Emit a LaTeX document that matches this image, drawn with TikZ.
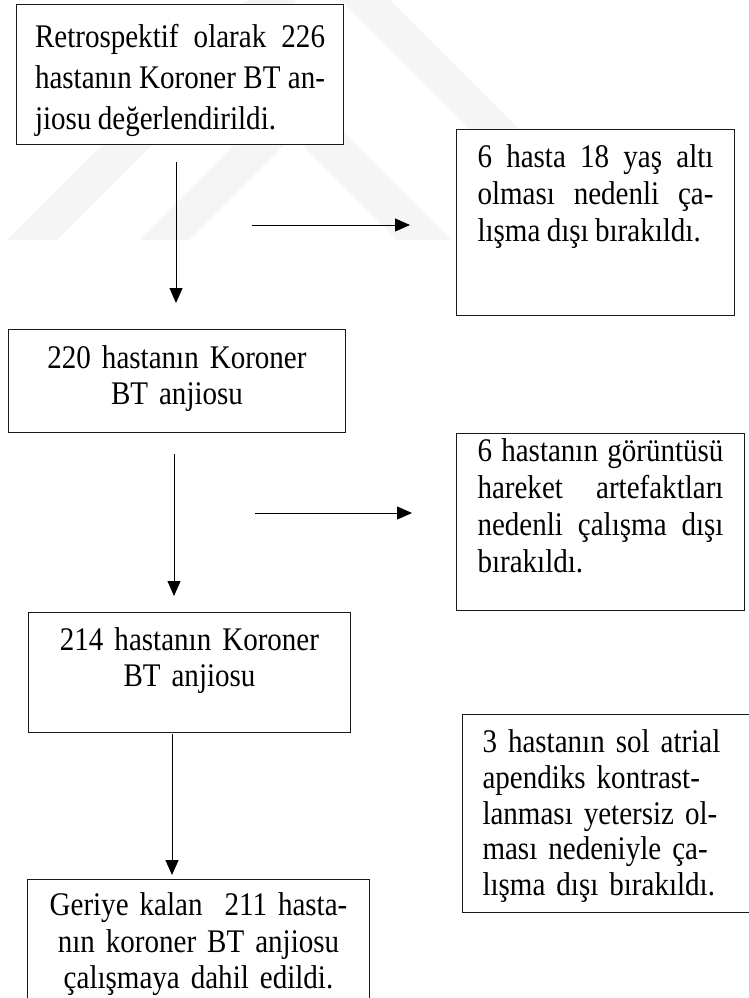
\documentclass[tikz,border=0pt]{standalone}
\usepackage{fontspec}
\setmainfont{Liberation Serif}[FakeStretch=0.88,WordSpace=0.88]
\usetikzlibrary{arrows.meta}

\tolerance=10000

\tikzset{
  box/.style={draw=black!90, line width=1pt, fill=white, anchor=north west,
    inner ysep=0pt, font=\fontsize{33}{37}\selectfont},
  flow/.style={-{Triangle[length=15pt,width=13pt]}, line width=1pt},
}

\begin{document}
\begin{tikzpicture}[x=1pt,y=-1pt]
    \useasboundingbox (0,0) rectangle (749,998);

    % watermark
    \fill[black!4] (7,240) -- (318.5,-71.5) -- (630,240) -- (580,240)
      -- (318.5,-21.5) -- (57,240) -- cycle;
    \fill[black!4] (139,240) -- (295,84) -- (451,240) -- (397,240)
      -- (293,136) -- (189,240) -- cycle;

    % main steps
    \node[box, minimum width=327pt, inner xsep=17pt, text width=290pt,
      align=justify, text height=43pt, text depth=97pt,
      font=\fontsize{33}{41}\selectfont] (retro) at (16,4)
      {Retrospektif olarak 226\linebreak hastanın Koroner BT an-\linebreak
       jiosu değerlendirildi.};
    \node[box, minimum width=337pt, text width=320pt, align=center,
      text height=39pt, text depth=64pt,
      font=\fontsize{33}{36}\selectfont] (step220) at (8,329)
      {220 hastanın Koroner\\BT anjiosu};
    \node[box, minimum width=322pt, text width=310pt, align=center,
      text height=38pt, text depth=82pt,
      font=\fontsize{33}{36}\selectfont] (step214) at (28,612)
      {214 hastanın Koroner\\BT anjiosu};
    \node[box, minimum width=342pt, text width=320pt, align=center,
      text height=36pt, text depth=110pt,
      font=\fontsize{33}{36.5}\selectfont] (final) at (27,879)
      {Geriye kalan\ \ 211 hasta-\\nın koroner BT anjiosu\\çalışmaya dahil edildi.};

    % excluded
    \node[box, minimum width=278pt, inner xsep=21pt, text width=236pt,
      align=justify, text height=38pt, text depth=148pt] (under18) at (456,129)
      {6 hasta 18 yaş altı\linebreak olması nedenli ça-\linebreak
       lışma dışı bırakıldı.};
    \node[box, minimum width=288pt, inner xsep=21pt, text width=246pt,
      align=justify, text height=28pt, text depth=149pt] (artefakt) at (456,433)
      {6 hastanın görüntüsü\linebreak hareket artefaktları\linebreak
       nedenli çalışma dışı\linebreak bırakıldı.};
    \node[box, minimum width=300pt, inner xsep=20pt, text width=260pt,
      align=left, text height=38pt, text depth=160pt,
      font=\fontsize{33}{35.8}\selectfont] (kontrast) at (462,714)
      {3 hastanın sol atrial\\apendiks kontrast-\\lanması yetersiz ol-\\ması nedeniyle ça-\\lışma dışı bırakıldı.};

    % arrow ends
    \coordinate (d1s) at (176,162);
    \coordinate (d1e) at (176,303);
    \coordinate (r1s) at (252,225);
    \coordinate (r1e) at (410,225);
    \coordinate (d2s) at (174,454);
    \coordinate (d2e) at (174,596);
    \coordinate (r2s) at (255,513);
    \coordinate (r2e) at (412,513);
    \coordinate (d3s) at (172,734);
    \coordinate (d3e) at (172,875);

    % edges
    \draw[flow] (d1s) -- (d1e);
    \draw[flow] (r1s) -- (r1e);
    \draw[flow] (d2s) -- (d2e);
    \draw[flow] (r2s) -- (r2e);
    \draw[flow] (d3s) -- (d3e);

\end{tikzpicture}
\end{document}
